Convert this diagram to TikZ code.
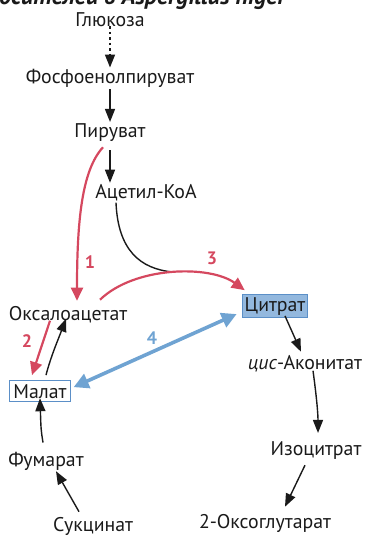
\documentclass[tikz,border=0pt]{standalone}
\usepackage{fontspec}
\setmainfont{PT Sans}
\usetikzlibrary{arrows.meta,calc}
\definecolor{pathred}{HTML}{D5485F}
\definecolor{pathblue}{HTML}{6FA3D2}
\definecolor{boxfill}{HTML}{93B8DE}
\definecolor{boxline}{HTML}{5B8FC7}
\definecolor{ink}{HTML}{1A1A1A}
\tikzset{
  metab/.style={anchor=base, inner sep=3pt, text=ink, font=\fontsize{19.8}{22}\selectfont},
  citbox/.style={metab, draw=boxline, fill=boxfill, line width=0.9pt, inner sep=2.5pt},
  malbox/.style={metab, draw=boxline, fill=white, line width=1.1pt, inner sep=3.5pt},
  blk/.style={draw=ink, line width=1.4pt, -{Triangle[length=13pt,width=10pt]}},
  redarr/.style={draw=pathred, line width=2.2pt, -{Triangle[length=13pt,width=12pt]}},
  bluearr/.style={draw=pathblue, line width=3.6pt, {Triangle[length=15pt,width=15pt]}-{Triangle[length=15pt,width=15pt]}},
  steplabel/.style={font=\fontsize{18}{20}\selectfont\bfseries, inner sep=0pt},
}
\begin{document}
\begin{tikzpicture}[x=1pt,y=-1pt]
\useasboundingbox (0,0) rectangle (367,538);
\clip (0,0) rectangle (367,538);

% heading, only its lower part lies inside the frame
\node[anchor=base east, inner sep=0pt, text=ink, font=\fontsize{24}{26}\selectfont\bfseries\itshape]
  (head) at (286,5) {носителей в Aspergillus niger};

% metabolites
\node[metab] (glu) at (110,26) {Глюкоза};
\node[metab] (pep) at (110,83) {Фосфоенолпируват};
\node[metab] (pyr) at (110,137) {Пируват};
\node[metab] (acoa) at (146,198) {Ацетил-КоА};
\node[metab] (oaa) at (68,320) {Оксалоацетат};
\node[citbox] (cit) at (275,311) {Цитрат};
\node[metab] (cis) at (305,369) {\textit{цис}-Аконитат};
\node[malbox] (mal) at (40,398) {Малат};
\node[metab] (iso) at (316,455) {Изоцитрат};
\node[metab] (fum) at (46,466) {Фумарат};
\node[metab] (oxo) at (265,528) {2-Оксоглутарат};
\node[metab] (suc) at (93,531) {Сукцинат};

% glycolysis part
\draw[blk, dash pattern=on 2.5pt off 3pt] (glu.south) ++(0,-3) -- ($(pep.north)+(0,2)$);
\draw[blk] (pep.south) ++(0,-1) -- ($(pyr.north)+(0,2)$);
\draw[blk] ($(pyr.south)+(0,6)$) -- ($(pyr.south |- acoa.north)+(0,2)$);

% red pathway: pyruvate to oxaloacetate (1)
\draw[redarr] ($(pyr.south)+(-7,3)$) .. controls (82,170) and (77,220) .. ($(oaa.north)+(9,-2)$);
\node[steplabel, text=pathred] (n1) at (90,262) {1};

% acetyl-CoA joins the citrate synthase arrow (3)
\coordinate (join) at (173,272);
\draw[draw=ink, line width=1.4pt] ($(acoa.south)+(-30,-1)$) .. controls (118,250) and (140,269) .. (join);
\draw[redarr] ($(oaa.north)+(32,-3)$) .. controls (135,266) and (210,265) .. ($(cit.north west)+(3,-4)$);
\node[steplabel, text=pathred] (n3) at (212,258) {3};

% oxaloacetate / malate exchange (2)
\draw[redarr] ($(oaa.south)+(-18,-5)$) -- ($(mal.north)+(-8,-5)$);
\node[steplabel, text=pathred] (n2) at (27,341) {2};
\draw[blk] ($(mal.north)+(6,-5)$) .. controls (51,356) and (58,340) .. ($(oaa.south)+(-2,-7)$);

% malate / citrate transporter (4)
\draw[bluearr] ($(mal.east)+(3,-4)$) -- ($(cit.west)+(-5,8)$);
\node[steplabel, text=pathblue] (n4) at (152,338) {4};

% citric acid cycle
\draw[blk] ($(cit.south)+(10,-2)$) -- ($(cis.north)+(-4,0)$);
\draw[blk] ($(cis.south)+(8,-4)$) .. controls (317,400) and (318,415) .. ($(iso.north)+(2,-5)$);
\draw[blk] ($(iso.south)+(-11,3)$) -- ($(oxo.north)+(20,-4)$);

% succinate to malate
\draw[blk] ($(suc.north)+(-14,-2)$) -- ($(fum.south)+(10,-2)$);
\draw[blk] ($(fum.north)+(-3,-6)$) .. controls (41,430) .. ($(mal.south)+(0,-4)$);
\end{tikzpicture}
\end{document}
